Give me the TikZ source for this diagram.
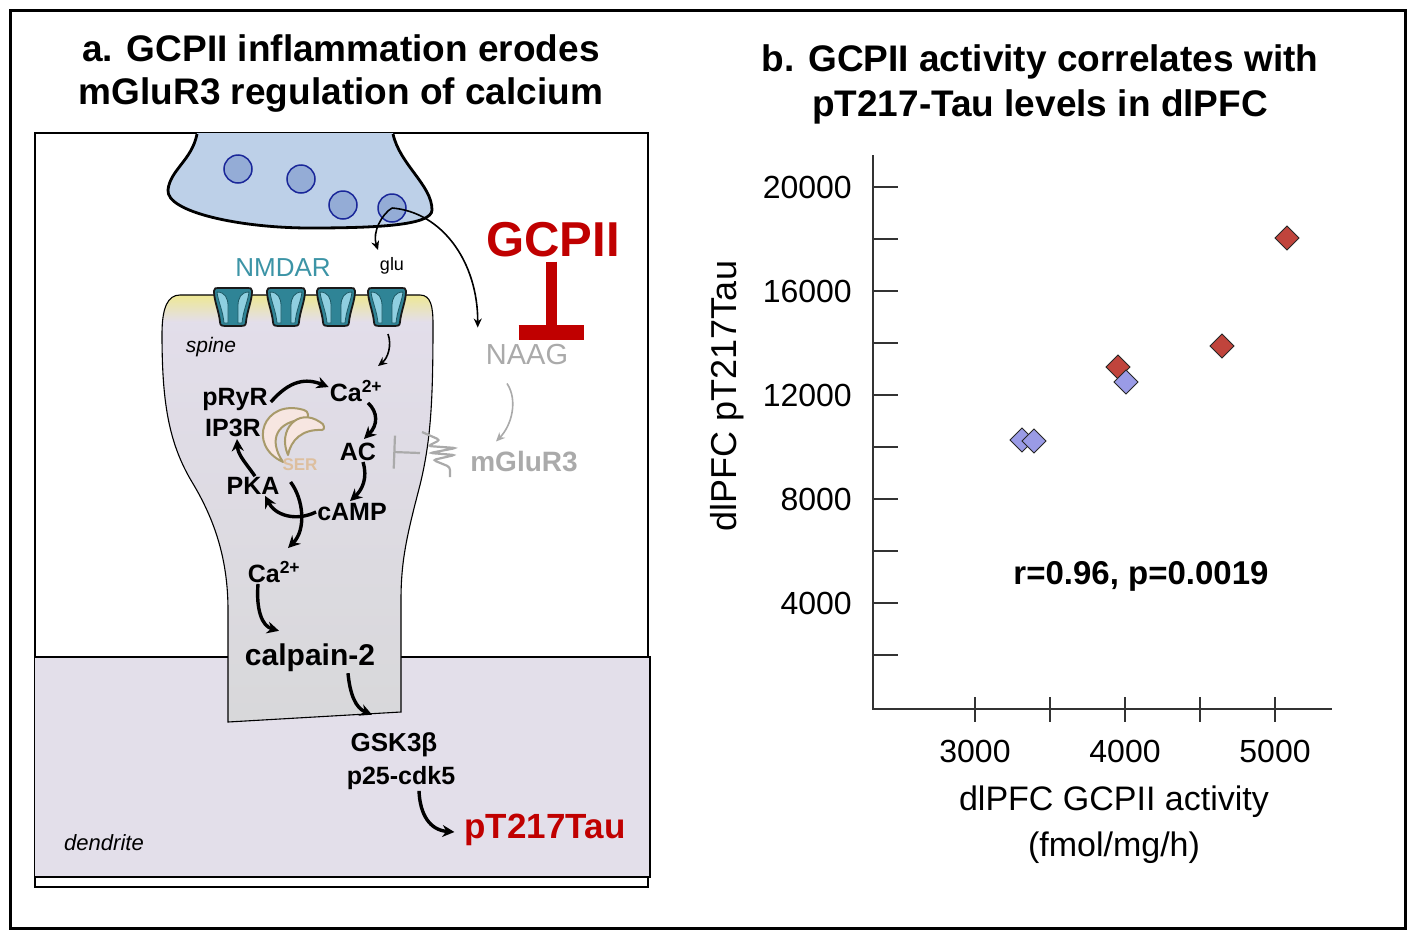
\documentclass[tikz,border=0pt]{standalone}
\usepackage{fontspec}
\setmainfont{Liberation Sans}
\usetikzlibrary{arrows.meta,calc}
\definecolor{gcred}{HTML}{C00000}
\definecolor{nmteal}{HTML}{3C94A6}
\definecolor{greytxt}{HTML}{AAAAAA}
\definecolor{boutfill}{HTML}{BDD0E8}
\definecolor{vesfill}{HTML}{94ACD6}
\definecolor{vesline}{HTML}{1A2799}
\definecolor{dendfill}{HTML}{E3DFEA}
\definecolor{spinetop}{HTML}{E3DEEB}
\definecolor{spinebot}{HTML}{D8D8DA}
\definecolor{psd}{HTML}{EFE98A}
\definecolor{serfill}{HTML}{F7E6E1}
\definecolor{serline}{HTML}{A89A6A}
\definecolor{sertxt}{HTML}{DDBF9F}
\definecolor{reclight}{HTML}{8FCFE0}
\definecolor{recdark}{HTML}{2F8496}
\definecolor{recline}{HTML}{1E5A66}
\definecolor{dred}{HTML}{C0443C}
\definecolor{dblue}{HTML}{9A9BE6}
\definecolor{axisc}{HTML}{333333}
\newcommand\fs[1]{\fontsize{#1}{#1}\selectfont}
\tikzset{
  thinarr/.style={line width=1.6pt,-{Stealth[length=9pt,width=8pt]}},
  thickarr/.style={line width=3.4pt,-{Stealth[length=12pt,width=12pt]}},
  lbl/.style={inner sep=1pt,font=\bfseries\fs{25}},
  ttl/.style={inner sep=0pt,font=\bfseries\fs{37}},
  tick/.style={line width=2.2pt,draw=axisc},
  ticklbl/.style={inner sep=0pt,font=\fs{32}},
  diam/.style={draw=black!85,line width=1pt},
  serpart/.style={fill=serfill,draw=serline,line width=2pt,line join=round},
  vesicle/.style={circle,minimum size=28pt,inner sep=0pt,fill=vesfill,draw=vesline,line width=1.5pt},
  nmdar/.pic={
    \filldraw[fill=recdark,draw=black!90,line width=1.8pt] (-19,-15) .. controls (-19,-18) and (-17,-18) .. (-15,-18) -- (15,-18) .. controls (17,-18) and (19,-18) .. (19,-15) .. controls (19,-5) and (14,5) .. (13,16) .. controls (13,20) and (10,20) .. (8,20) -- (-8,20) .. controls (-10,20) and (-13,20) .. (-13,16) .. controls (-14,5) and (-19,-5) .. (-19,-15) -- cycle;
    \filldraw[fill=reclight,draw=recline,line width=0.8pt] (-16,-14) .. controls (-8,-14) and (-5,-8) .. (-5,0) -- (-5,17) -- (-9,17) .. controls (-10,5) and (-15,-5) .. (-16,-14) -- cycle;
    \filldraw[fill=reclight,draw=recline,line width=0.8pt] (16,-14) .. controls (8,-14) and (5,-8) .. (5,0) -- (5,17) -- (9,17) .. controls (10,5) and (15,-5) .. (16,-14) -- cycle;
  }
}
\begin{document}
\begin{tikzpicture}[x=1pt,y=-1pt]
\useasboundingbox (0,0) rectangle (1417,940);
\fill[white] (0,0) rectangle (1417,940);
\draw[line width=3pt] (10,10) rectangle (1405,928);

% titles
\node[ttl] (ta1) at (341,48) {a. GCPII inflammation erodes};
\node[ttl] (ta2) at (341,95) {mGluR3 regulation of calcium};
\node[ttl] (tb1) at (1040,62) {b. GCPII activity correlates with};
\node[ttl] (tb2) at (1040,107) {pT217-Tau levels in dlPFC};

% panel a frame and dendrite
\draw[line width=1.2pt] (35,133) rectangle (648,887);
\fill[dendfill] (35,657) rectangle (650,877);
\draw[line width=1.2pt] (35,657) -- (650,657) -- (650,877) -- (35,877);

% spine
\def\spinepath{(180,295) -- (420,295) .. controls (431,295) and (433,307) .. (433,324) .. controls (433,400) and (431,440) .. (420,485) .. controls (407,535) and (401,560) .. (401,600) -- (401,712) -- (228,722) -- (228,610) .. controls (228,560) and (215,520) .. (192,482) .. controls (168,442) and (162,400) .. (162,334) .. controls (162,307) and (168,295) .. (180,295) -- cycle}
\shade[top color=spinetop,bottom color=spinebot] \spinepath;
\begin{scope}
  \clip \spinepath;
  \shade[top color=psd,bottom color=spinetop] (150,292) rectangle (440,322);
\end{scope}
\draw[line width=1.1pt] \spinepath;

% bouton
\fill[boutfill] (197,133) .. controls (192,160) and (170,170) .. (168,190) .. controls (166,212) and (240,228) .. (310,228) .. controls (380,228) and (432,225) .. (432,210) .. controls (432,185) and (400,165) .. (393,133) -- cycle;
\draw[line width=2.8pt] (197,134) .. controls (192,160) and (170,170) .. (168,190) .. controls (166,212) and (240,228) .. (310,228) .. controls (380,228) and (432,225) .. (432,210) .. controls (432,185) and (400,165) .. (393,134);
\node[vesicle] (v1) at (238,169) {};
\node[vesicle] (v2) at (301,179) {};
\node[vesicle] (v3) at (343,205) {};
\node[vesicle] (v4) at (392,208) {};

% receptors
\foreach \x in {233,286,336,387} \pic at (\x,306) {nmdar};
\coordinate (r4) at (388,334);

% labels panel a
\node[inner sep=0pt,font=\fs{26},text=nmteal] (nmdar) at (283,268) {NMDAR};
\node[inner sep=1pt,font=\fs{18}] (glu) at (392,266) {glu};
\node[inner sep=0pt,font=\bfseries\fs{49},text=gcred] (gcpii) at (553,240) {GCPII};
\node[inner sep=0pt,font=\fs{29},text=greytxt] (naag) at (527,355) {NAAG};
\node[inner sep=0pt,font=\bfseries\fs{28},text=greytxt] (mglur) at (524,462) {mGluR3};
\node[inner sep=0pt,font=\itshape\fs{21}] (spine) at (211,347) {spine};
\node[inner sep=0pt,font=\itshape\fs{22}] (dend) at (104,843) {dendrite};

\node[lbl] (pryr) at (235,399) {pRyR};
\node[lbl] (ca1) at (356,391) {Ca\textsuperscript{2+}};
\node[lbl] (ip3r) at (233,428) {IP3R};
\node[lbl] (ac) at (358,452) {AC};
\node[lbl] (pka) at (253,486) {PKA};
\node[lbl] (camp) at (352,512) {cAMP};
\node[lbl] (ca2) at (274,572) {Ca\textsuperscript{2+}};
\node[lbl,font=\bfseries\fs{30}] (calp) at (310,658) {calpain-2};
\node[lbl,font=\bfseries\fs{26}] (gsk) at (394,745) {GSK3β};
\node[lbl,font=\bfseries\fs{25}] (p25) at (401,778) {p25-cdk5};
\node[lbl,font=\bfseries\fs{35},text=gcred] (tau) at (545,830) {pT217Tau};

% SER
\path[serpart] (304,410) .. controls (264,398) and (246,445) .. (283,462) .. controls (268,440) and (276,421) .. (306,419) .. controls (309,418) and (309,411) .. (304,410) -- cycle;
\path[serpart] (320,422) .. controls (298,407) and (277,430) .. (288,455) .. controls (291,440) and (302,429) .. (322,430) .. controls (325,430) and (325,424) .. (320,422) -- cycle;
\node[inner sep=0pt,font=\bfseries\fs{17},text=sertxt] (ser) at (300,465) {SER};

% mGluR3 receptor glyph
\draw[greytxt,line width=2.2pt,rounded corners=3pt] (422,432) -- (440,440) -- (428,446) -- (456,448) -- (430,453) -- (455,455) -- (433,460) -- (450,467) -- (450,477);
\coordinate (m3) at (420,453);
\draw[greytxt,line width=2.2pt,-{Bar[width=33pt]}] (m3) -- ([xshift=16pt]ac.east);

% GCPII inhibition T
\coordinate (tTop) at ($(gcpii.south)+(-2,4)$);
\coordinate (tBot) at ($(gcpii.south)+(-2,75)$);
\draw[gcred,line width=11pt] (tTop) -- ($(tBot)+(0,-8)$);
\draw[gcred,line width=15pt] ($(tBot)+(-32.5,0)$) -- ($(tBot)+(32.5,0)$);

% arrows synapse
\draw[thinarr] (v4.center) .. controls (382,214) and (372,232) .. (378,250);
\draw[thinarr] (v4.center) .. controls (442,212) and (478,262) .. ([xshift=-8pt,yshift=17pt]naag.north west);
\draw[thinarr] (r4) .. controls (392,345) and (388,358) .. ([xshift=22pt,yshift=13pt]ca1.north);
\draw[thinarr,greytxt] ([xshift=-20pt,yshift=-18pt]naag.south) .. controls (518,400) and (512,425) .. ([xshift=-28pt,yshift=10pt]mglur.north);

% signalling arrows
\draw[thickarr] ([xshift=2pt,yshift=-3pt]pryr.east) .. controls (290,380) and (306,378) .. ([yshift=4pt]ca1.west);
\draw[thickarr] ([xshift=12pt]ca1.south) .. controls (378,412) and (378,425) .. ([xshift=6pt,yshift=3pt]ac.north);
\draw[thickarr] ([xshift=5pt]ac.south) .. controls (368,478) and (362,490) .. ([xshift=-2pt,yshift=1pt]camp.north);
\draw[thickarr] (camp.west) .. controls (295,522) and (275,515) .. ([xshift=12pt]pka.south);
\draw[thickarr] ([xshift=2pt]pka.north) .. controls (245,462) and (238,455) .. ([xshift=4pt,yshift=-1pt]ip3r.south);
\draw[thickarr] ([xshift=10pt,yshift=4pt]pka.east) .. controls (304,500) and (306,530) .. ([xshift=14pt,yshift=12pt]ca2.north);
\draw[thickarr] ([xshift=-16pt]ca2.south) .. controls (256,610) and (262,626) .. ([xshift=-31pt,yshift=12pt]calp.north);
\draw[thickarr] ([xshift=38pt]calp.south) .. controls (350,695) and (356,708) .. ([xshift=-22pt,yshift=17pt]gsk.north);
\draw[thickarr] ([xshift=18pt]p25.south) .. controls (420,815) and (430,830) .. ([xshift=-9pt,yshift=-2pt]tau.west);

% ---------- panel b plot ----------
\coordinate (orig) at (873,709);
\draw[line width=2.6pt,draw=axisc] (873,155) -- (orig) -- (1332,709);
\foreach \k in {1,...,10} \draw[tick] (873,{707-52*\k}) -- (898,{707-52*\k});
\foreach \xx in {975,1050,1125,1200,1275} \draw[tick] (\xx,697) -- (\xx,722);
\foreach \v/\lab in {4/4000,8/8000,12/12000,16/16000,20/20000} \node[ticklbl,anchor=east] (yl\v) at (852,{707-26*\v}) {\lab};
\node[ticklbl] (xl3) at (975,751) {3000};
\node[ticklbl] (xl4) at (1125,751) {4000};
\node[ticklbl] (xl5) at (1275,751) {5000};
\node[inner sep=0pt,font=\fs{34}] (xlab1) at (1114,802) {dlPFC GCPII activity};
\node[inner sep=0pt,font=\fs{34}] (xlab2) at (1114,848) {(fmol/mg/h)};
\node[inner sep=0pt,font=\fs{36},rotate=90] (ylab) at (727,396) {dlPFC pT217Tau};
\node[inner sep=0pt,font=\bfseries\fs{33}] (rp) at (1141,576) {r=0.96, p=0.0019};

% data
\foreach \px/\py/\c in {1022/440/dblue,1034/441/dblue,1118/367/dred,1126/382/dblue,1222/346/dred,1287/238/dred}
  \filldraw[diam,fill=\c] (\px,\py-12) -- (\px+12,\py) -- (\px,\py+12) -- (\px-12,\py) -- cycle;
\end{tikzpicture}
\end{document}
